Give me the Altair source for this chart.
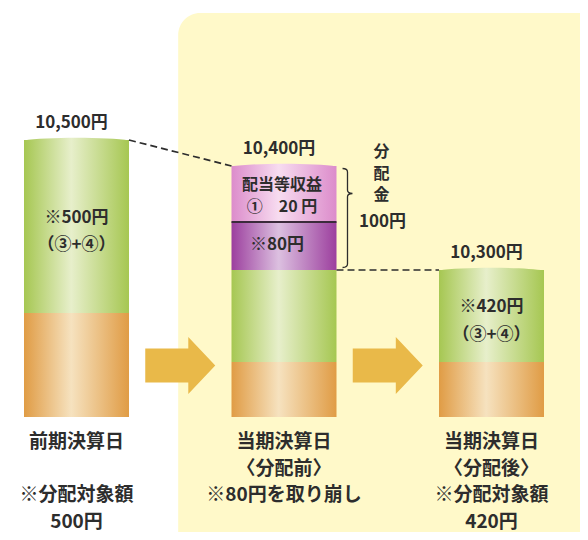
import altair as alt
import pandas as pd

FONT = "Noto Sans CJK JP"
INK = "#2d2d2d"

# ------------------------------------------------------------------ data
columns = [0, 1, 2]
column_totals = [10500, 10400, 10300]
bottom_labels = [
    ["前期決算日", "", "※分配対象額", "500円"],
    ["当期決算日", "〈分配前〉", "※80円を取り崩し"],
    ["当期決算日", "〈分配後〉", "※分配対象額", "420円"],
]

seg_column = [0, 0, 1, 1, 1, 1, 2, 2]
seg_kind = ["base", "reserve", "base", "reserve", "drawdown", "income", "base", "reserve"]
seg_yen = [10000, 500, 9880, 420, 80, 20, 9880, 420]
# schematic drawing heights (the picture uses a broken, not-to-scale axis)
seg_drawn = [104, 173, 55, 92, 48, 56, 55, 92]
seg_label = ["", "※500円\n（③+④）", "", "", "※80円", "配当等収益\n①　20 円", "", "※420円\n（③+④）"]

distribution_title = ["分", "配", "金"]
distribution_yen = 100

# ------------------------------------------------------------------ layout / style
W, H = 572, 524
STEP = 207.5          # px between column centres
FIRST = 68.5          # px of first column centre
HALF = 0.253          # bar half width in column units
BASE_PX = 409         # px of bar bottoms
LINE0, LINE_H = 25, 26.7   # caption first-line offset and line spacing (px)
VLINE0, VLINE_H = 14, 21.7  # vertical "分配金" offset above block and spacing (px)
x_dom = [-FIRST / STEP, (W - FIRST) / STEP]
y_dom = [-(H - BASE_PX), BASE_PX]

xs = alt.Scale(domain=x_dom, nice=False, zero=False)
ys = alt.Scale(domain=y_dom, nice=False, zero=False)


def grad(edge, mid):
    return alt.LinearGradient(
        gradient="linear", x1=0, x2=1, y1=0, y2=0,
        stops=[alt.GradientStop(color=edge, offset=0),
               alt.GradientStop(color=mid, offset=0.45),
               alt.GradientStop(color=edge, offset=1)])


fills = {
    "base": grad("#e09c45", "#f6e2bf"),
    "reserve": grad("#a6c752", "#e7efcb"),
    "drawdown": grad("#9c3f9e", "#dcc0e0"),
    "income": grad("#dc8ccb", "#f7dcf0"),
}

# ------------------------------------------------------------------ tables
segs = pd.DataFrame(dict(col=seg_column, kind=seg_kind, yen=seg_yen, h=seg_drawn, label=seg_label))
segs["y1"] = segs.groupby("col")["h"].cumsum()
segs["y0"] = segs["y1"] - segs["h"]
segs["mid"] = (segs["y0"] + segs["y1"]) / 2
segs["xl"] = segs["col"] - HALF
segs["xr"] = segs["col"] + HALF

tops = segs.groupby("col")["y1"].max()
top_rows = segs.loc[segs.groupby("col")["y1"].idxmax()]

cols = pd.DataFrame(dict(col=columns, total=column_totals))
cols["top"] = cols["col"].map(tops)
cols["total_label"] = cols["total"].map(lambda v: f"{v:,}円")

captions = pd.DataFrame([dict(col=c, k=k, line=t)
                         for c, lines in zip(columns, bottom_labels)
                         for k, t in enumerate(lines) if t])
captions["y"] = -(LINE0 + captions["k"] * LINE_H)

after_top = float(segs[(segs.col == 1) & (segs.kind == "reserve")]["y1"].iloc[0])
conn = pd.DataFrame([
    dict(x=0 + HALF, y=float(tops[0]), x2=1 - HALF, y2=float(tops[1])),
    dict(x=1 + HALF, y=after_top, x2=2 - HALF, y2=float(tops[2])),
])

dist = segs[(segs.col == 1) & segs.kind.isin(["drawdown", "income"])]
dist_lo, dist_hi = float(dist["y0"].min()), float(dist["y1"].max())
brace = pd.DataFrame([dict(x=1 + HALF + 0.053, y=(dist_lo + dist_hi) / 2, xt=1 + HALF,
                           amount=f"{distribution_yen}円")])
vtitle = pd.DataFrame(dict(ch=distribution_title, xt=1 + HALF,
                           y=[dist_hi + VLINE0 - k * VLINE_H for k in range(len(distribution_title))]))

arrows = pd.DataFrame(dict(x=[(a + b) / 2 for a, b in zip(columns[:-1], columns[1:])], y=51.5))
panel = pd.DataFrame([dict(x0=columns[1] - 0.51, x1=columns[-1] + 1.0, y0=y_dom[0] - 100, y1=y_dom[1] - 5)])

# ------------------------------------------------------------------ layers
X = lambda f: alt.X(f, scale=xs, axis=None)
Y = lambda f: alt.Y(f, scale=ys, axis=None)

panel_layer = alt.Chart(panel).mark_rect(color="#fff9c9", cornerRadius=22).encode(
    x=X("x0:Q"), x2="x1:Q", y=Y("y0:Q"), y2="y1:Q")

ARROW = "M-1,-0.486L0.23,-0.486L0.23,-0.814L1,0L0.23,0.814L0.23,0.486L-1,0.486Z"
arrow_layer = alt.Chart(arrows).mark_point(
    shape=ARROW, size=4900, filled=True, fill="#e9b949", opacity=1, strokeWidth=0).encode(
    x=X("x:Q"), y=Y("y:Q"))

bar_layers = []
for kind, g in fills.items():
    bar_layers.append(
        alt.Chart(segs[segs.kind == kind]).mark_rect(color=g).encode(
            x=X("xl:Q"), x2="xr:Q", y=Y("y0:Q"), y2="y1:Q"))

CAP = "M-1,0.01 C-0.6,-0.06 0.6,-0.06 1,0.01 Z"
cap_layers = []
for kind in top_rows["kind"].unique():
    cap_layers.append(
        alt.Chart(top_rows[top_rows.kind == kind]).mark_point(
            shape=CAP, size=(2 * HALF * STEP) ** 2, filled=True, fill=fills[kind],
            opacity=1, strokeWidth=0).encode(x=X("col:Q"), y=Y("y1:Q")))

divider = alt.Chart(segs[segs.kind == "drawdown"]).mark_rule(color="#3b2b3b", strokeWidth=2).encode(
    x=X("xl:Q"), x2="xr:Q", y=Y("y1:Q"))

conn_layer = alt.Chart(conn).mark_rule(color=INK, strokeWidth=1.7, strokeDash=[7, 4]).encode(
    x=X("x:Q"), x2="x2:Q", y=Y("y:Q"), y2="y2:Q")

BRACE = ("M-0.1,-1 Q0,-1 0,-0.93 L0,-0.56 Q0,-0.5 0.1,-0.495 "
         "Q0,-0.49 0,-0.43 L0,0.93 Q0,1 -0.1,1")
brace_layer = alt.Chart(brace).mark_point(
    shape=BRACE, size=99 ** 2, filled=False, stroke=INK, strokeWidth=1.3, opacity=1).encode(
    x=X("x:Q"), y=Y("y:Q"))

txt = dict(font=FONT, color=INK, align="center", baseline="middle", lineBreak="\n", fontWeight="bold")

dist_title = alt.Chart(vtitle).mark_text(fontSize=16, dx=45, **txt).encode(
    x=X("xt:Q"), y=Y("y:Q"), text="ch:N")
dist_amount = alt.Chart(brace).mark_text(fontSize=17, dx=46, dy=4, **txt).encode(
    x=X("xt:Q"), y=Y("y:Q"), text="amount:N")

total_layer = alt.Chart(cols).mark_text(fontSize=17, dx=-5, dy=-17, **txt).encode(
    x=X("col:Q"), y=Y("top:Q"), text="total_label:N")

seg_text = []
for kind, dx, dy, lh, fs in [("reserve", 0, -9, 27.5, 17), ("income", -2, -9, 22, 16),
                             ("drawdown", -7, -1, 22, 17)]:
    seg_text.append(
        alt.Chart(segs[(segs.kind == kind) & (segs.label != "")]).mark_text(
            fontSize=fs, dx=dx, dy=dy, lineHeight=lh, **txt).encode(
            x=X("col:Q"), y=Y("mid:Q"), text="label:N"))

bottom_layer = alt.Chart(captions).mark_text(fontSize=19, **txt).encode(
    x=X("col:Q"), y=Y("y:Q"), text="line:N")

chart = alt.layer(
    panel_layer, arrow_layer, *bar_layers, *cap_layers, divider, conn_layer, brace_layer,
    dist_title, dist_amount, total_layer, *seg_text, bottom_layer,
).properties(width=W, height=H, autosize=alt.AutoSizeParams(type="none"), padding=0,
             background="white").configure_view(stroke=None)

chart.save("out.html", embed_options={"renderer": "svg", "actions": False})
